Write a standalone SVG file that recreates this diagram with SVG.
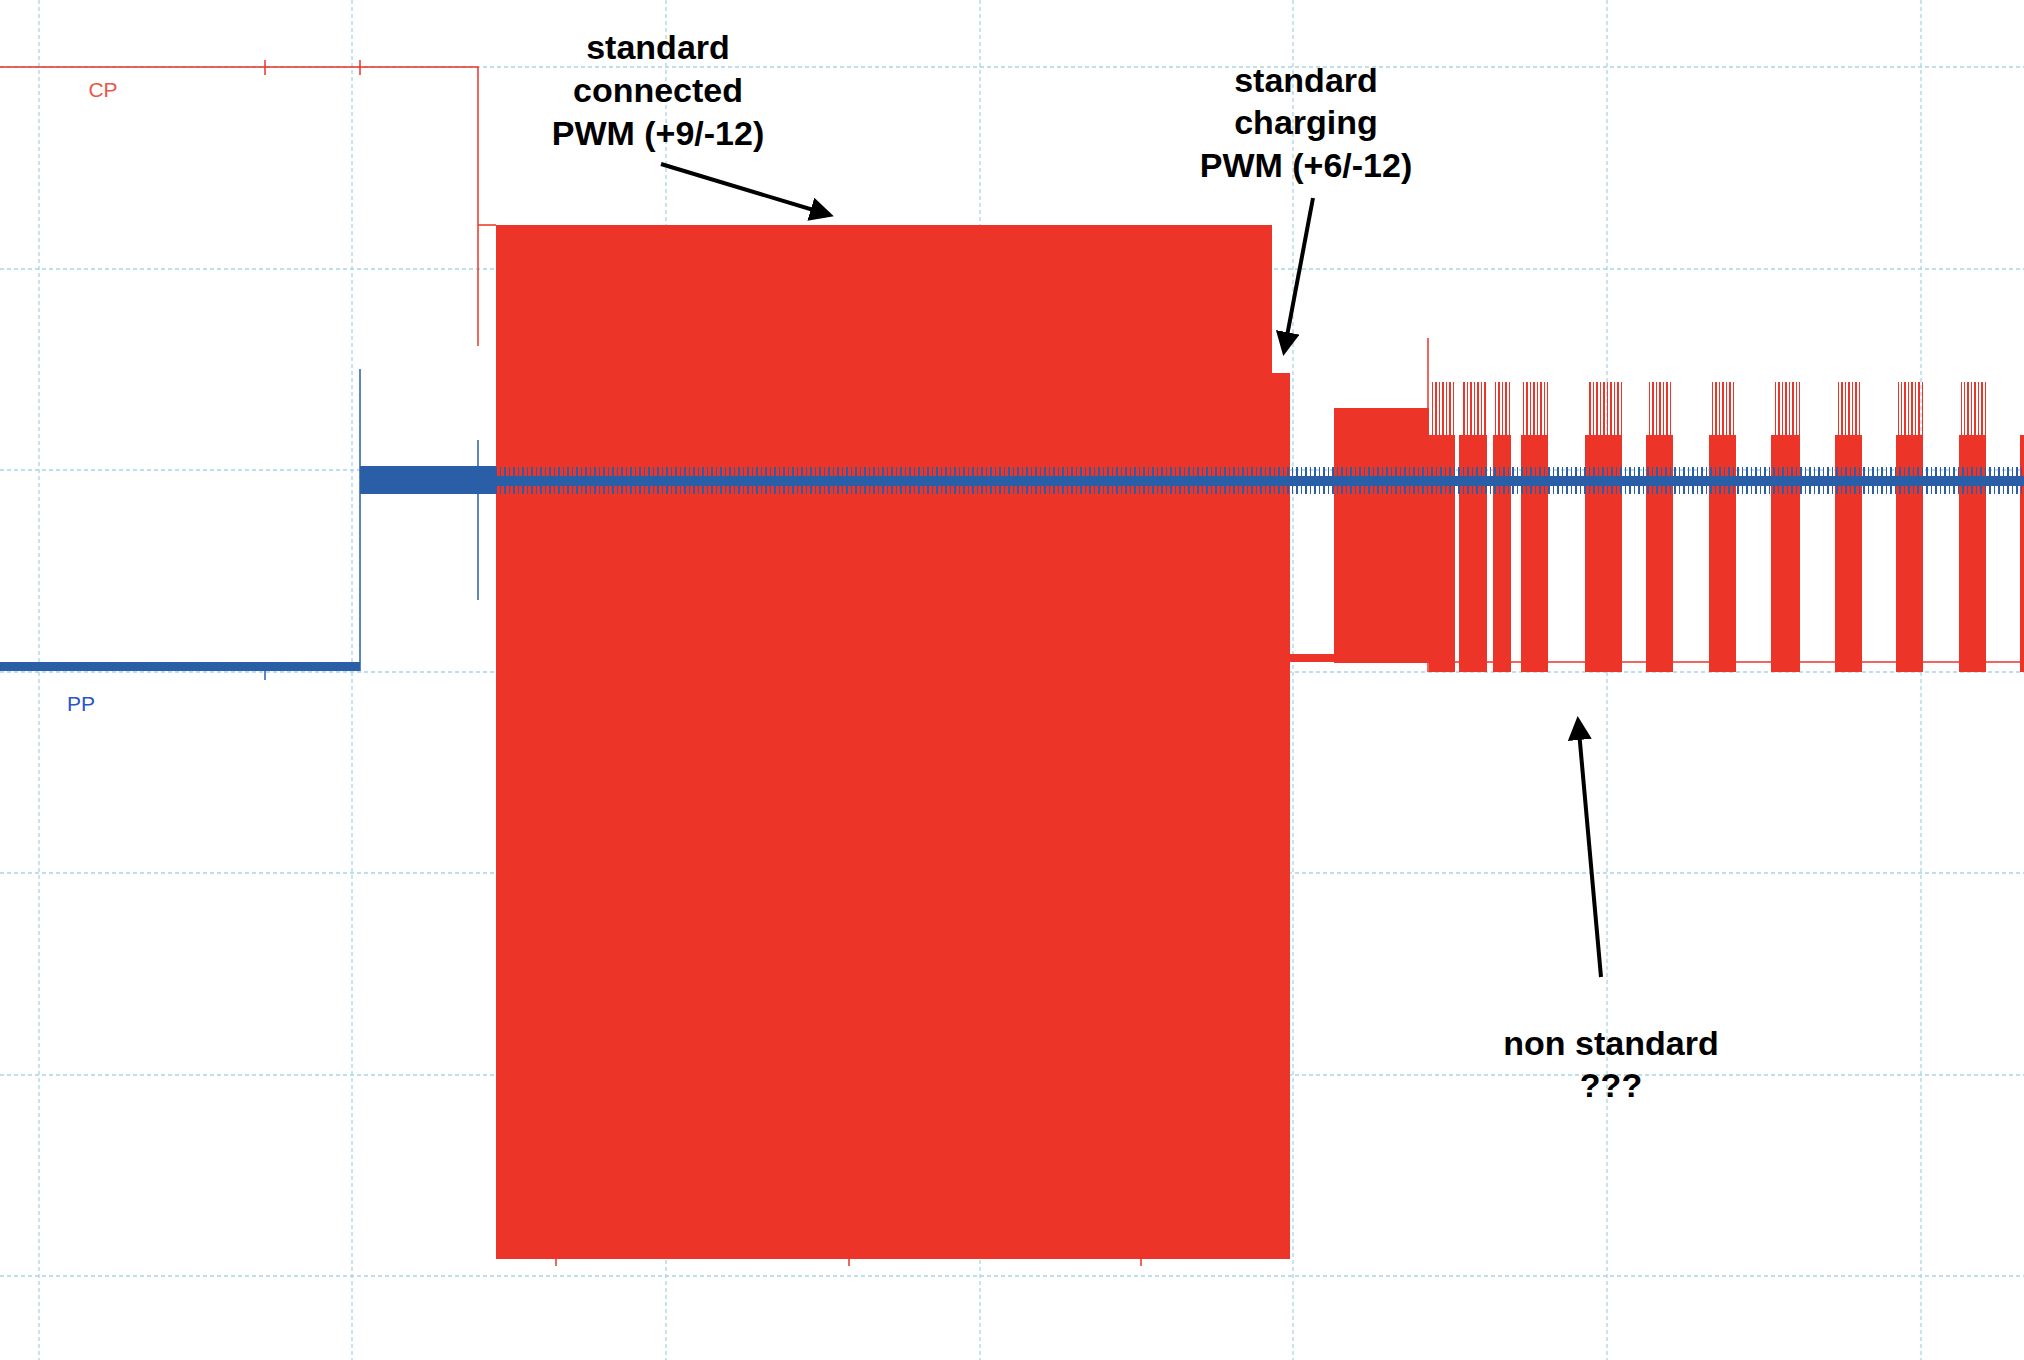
<svg xmlns="http://www.w3.org/2000/svg" width="2024" height="1360" viewBox="0 0 2024 1360">
<style>
.g{stroke:#a8d5e6;stroke-width:1.3;stroke-dasharray:4 3;fill:none}
.r{fill:#ec3429}
.rl{stroke:#ec3429;stroke-width:1.5;fill:none}
.b{fill:#2a5fa8}
.bl{stroke:#2a5fa8;stroke-width:1.5;fill:none}
.t{font-family:"Liberation Sans",Arial,sans-serif;font-weight:bold;font-size:34px;fill:#000;text-anchor:middle}
.a{stroke:#000;stroke-width:4;fill:none;marker-end:url(#ah)}
</style>
<defs>
<marker id="ah" markerWidth="6" markerHeight="6" refX="5" refY="3" orient="auto" markerUnits="strokeWidth"><path d="M0,0 L6,3 L0,6 z" fill="#000"/></marker>
<pattern id="rs" width="7" height="10" patternUnits="userSpaceOnUse"><rect x="0" width="2" height="10" fill="#ec3429"/><rect x="4" width="1" height="10" fill="#ec3429"/></pattern>
<pattern id="bs" width="9" height="10" patternUnits="userSpaceOnUse"><rect x="0" width="2" height="10" fill="#2a5fa8"/><rect x="5" width="1" height="10" fill="#2a5fa8"/></pattern>
</defs>
<rect width="2024" height="1360" fill="#fff"/>
<g id="grid">
<path class="g" d="M39 0V1360M352 0V1360M666 0V1360M980 0V1360M1293 0V1360M1607 0V1360M1921 0V1360"/>
<path class="g" d="M0 67H2024M0 269H2024M0 470H2024M0 672H2024M0 873H2024M0 1075H2024M0 1276H2024"/>
</g>
<g id="cp">
<path class="rl" d="M0 67H478V225H496M478 225V346M265 60V75M360 60V75"/>
<rect class="r" x="496" y="225" width="776" height="1034"/>
<rect class="r" x="1272" y="373" width="18" height="886"/>
<rect class="r" x="1290" y="654" width="44" height="8"/>
<rect class="r" x="1334" y="408" width="95" height="255"/>
<path class="rl" d="M556 1259V1266M849 1259V1266M1141 1259V1266M1428 338V672M1429 662H2024"/>
<g class="r">
<rect x="1429" y="435" width="26" height="237"/><rect x="1459" y="435" width="28" height="237"/><rect x="1493" y="435" width="18" height="237"/><rect x="1521" y="435" width="27" height="237"/><rect x="1585" y="435" width="37" height="237"/><rect x="1646" y="435" width="27" height="237"/><rect x="1709" y="435" width="27" height="237"/><rect x="1771" y="435" width="29" height="237"/><rect x="1835" y="435" width="27" height="237"/><rect x="1896" y="435" width="27" height="237"/><rect x="1959" y="435" width="27" height="237"/><rect x="2020" y="435" width="4" height="237"/>
</g>
<g fill="url(#rs)">
<rect x="1432" y="382" width="23" height="53"/><rect x="1461" y="382" width="26" height="53"/><rect x="1494" y="382" width="17" height="53"/><rect x="1522" y="382" width="26" height="53"/><rect x="1587" y="382" width="35" height="53"/><rect x="1648" y="382" width="25" height="53"/><rect x="1711" y="382" width="25" height="53"/><rect x="1773" y="382" width="27" height="53"/><rect x="1837" y="382" width="25" height="53"/><rect x="1898" y="382" width="25" height="53"/><rect x="1961" y="382" width="25" height="53"/>
</g>
<text x="103" y="97" font-family="Liberation Sans,Arial,sans-serif" font-size="21" fill="#e8574a" text-anchor="middle">CP</text>
</g>
<g id="pp">
<rect class="b" x="0" y="662" width="360" height="9"/>
<path class="bl" d="M265 671V680M360 369V671M478 440V600"/>
<rect class="b" x="360" y="466" width="136" height="28"/>
<rect class="b" x="496" y="476" width="1528" height="10"/>
<rect fill="url(#bs)" x="496" y="467" width="1528" height="27"/>
<text x="81" y="711" font-family="Liberation Sans,Arial,sans-serif" font-size="21" fill="#2a55c8" text-anchor="middle">PP</text>
</g>
<g id="labels">
<text class="t" x="658" y="59">standard</text><text class="t" x="658" y="102">connected</text><text class="t" x="658" y="145">PWM (+9/-12)</text>
<text class="t" x="1306" y="92">standard</text><text class="t" x="1306" y="134">charging</text><text class="t" x="1306" y="177">PWM (+6/-12)</text>
<text class="t" x="1611" y="1055">non standard</text><text class="t" x="1611" y="1097">???</text>
</g>
<g id="connectors">
<path class="a" d="M661 164L830 215"/>
<path class="a" d="M1313 198L1284 352"/>
<path class="a" d="M1601 977L1578 720"/>
</g>
</svg>
